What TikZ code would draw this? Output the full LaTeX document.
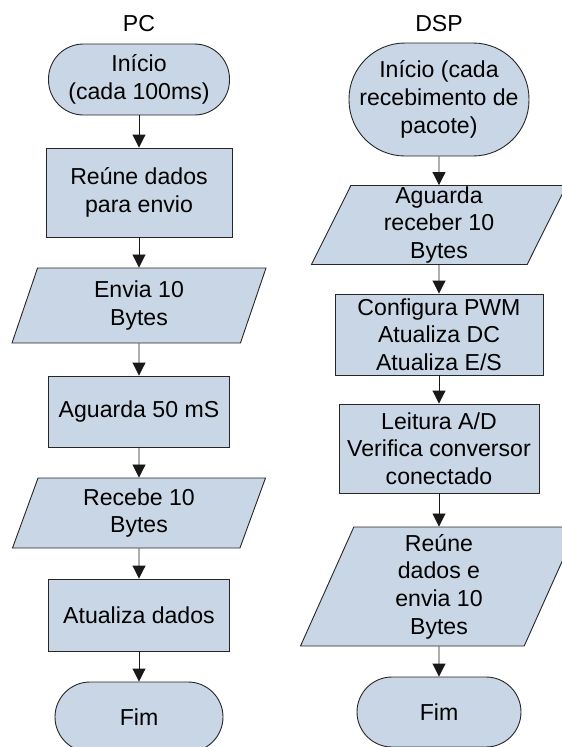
\documentclass[tikz,border=0pt]{standalone}
\usepackage{fontspec}
\setmainfont{Liberation Sans}
\usetikzlibrary{shapes.geometric,arrows.meta}
\definecolor{boxfill}{RGB}{201,214,229}
\begin{document}
\begin{tikzpicture}[x=1pt,y=-1pt,
	every node/.style={font=\fontsize{23.1pt}{27.7pt}\selectfont,align=center,inner sep=1pt},
	>={Triangle[length=13pt,width=13pt]},
	every edge/.style={draw,line width=0.9pt,black!90},
	term/.style={draw=black!85,fill=boxfill,line width=0.9pt,rectangle,rounded corners=35pt},
	proc/.style={draw=black!85,fill=boxfill,line width=0.9pt,rectangle},
	io/.style={draw=black!85,fill=boxfill,line width=0.9pt,trapezium,trapezium left angle=63.5,trapezium right angle=116.5,trapezium stretches body=true}]

	\useasboundingbox (0,0) rectangle (562,747);

	% PC
	\node (pc) at (139,24) {PC};
	\node[term, minimum width=181pt, minimum height=71pt] (pcstart) at (139,79.5) {Início\\(cada 100ms)};
	\node[proc, minimum width=186pt, minimum height=89pt] (pcjoin) [below of=pcstart, node distance=113pt] {Reúne dados\\para envio};
	\node[io, minimum width=254pt, minimum height=75pt] (pcsend) [below of=pcjoin, node distance=113pt] {Envia 10\\Bytes};
	\node[proc, minimum width=181pt, minimum height=71pt] (pcwait) [below of=pcsend, node distance=106pt] {Aguarda 50 mS};
	\node[io, minimum width=253pt, minimum height=70pt] (pcrecv) [below of=pcwait, node distance=101.5pt] {Recebe 10\\Bytes};
	\node[proc, minimum width=181pt, minimum height=72pt] (pcupd) [below of=pcrecv, node distance=102pt] {Atualiza dados};
	\node[term, minimum width=168pt, minimum height=70pt] (pcend) [below of=pcupd, node distance=102pt] {Fim};
	\path[->] (pcstart) edge (pcjoin);
	\path[->] (pcjoin) edge (pcsend);
	\path[->] (pcsend) edge (pcwait);
	\path[->] (pcwait) edge (pcrecv);
	\path[->] (pcrecv) edge (pcupd);
	\path[->] (pcupd) edge (pcend);

	% DSP
	\node (dsp) at (439,24) {DSP};
	\node[term, rounded corners=56pt, minimum width=180pt, minimum height=113pt] (dspstart) at (439,99.5) {Início (cada\\recebimento de\\pacote)};
	\node[io, minimum width=255pt, minimum height=78pt] (dspwait) [below of=dspstart, node distance=125.5pt] {Aguarda\\receber 10\\Bytes};
	\node[proc, minimum width=208pt, minimum height=81pt] (dspcfg) [below of=dspwait, node distance=109.5pt] {Configura PWM\\Atualiza DC\\Atualiza E/S};
	\node[proc, minimum width=200pt, minimum height=89pt] (dspread) [below of=dspcfg, node distance=114pt] {Leitura A/D\\Verifica conversor\\conectado};
	\node[io, minimum width=277pt, minimum height=119pt] (dspsend) [below of=dspread, node distance=138pt] {Reúne\\dados e\\envia 10\\Bytes};
	\node[term, minimum width=164pt, minimum height=70pt] (dspend) [below of=dspsend, node distance=125.5pt] {Fim};
	\path[->] (dspstart) edge (dspwait);
	\path[->] (dspwait) edge (dspcfg);
	\path[->] (dspcfg) edge (dspread);
	\path[->] (dspread) edge (dspsend);
	\path[->] (dspsend) edge (dspend);

\end{tikzpicture}
\end{document}
